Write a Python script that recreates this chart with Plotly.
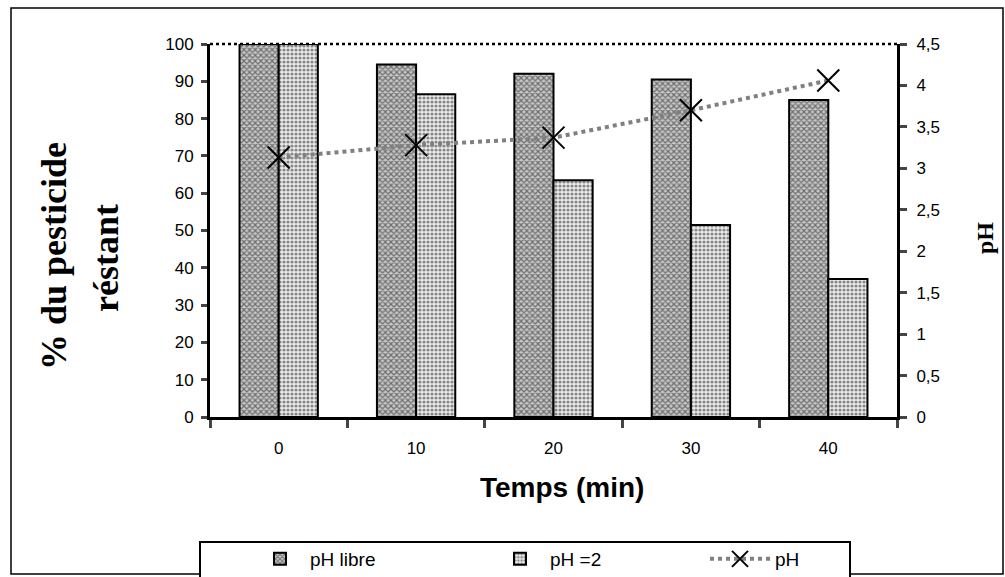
import plotly.graph_objects as go

temps = ["0", "10", "20", "30", "40"]
ph_libre = [100, 94.5, 92, 90.5, 85]
ph_2 = [100, 86.5, 63.5, 51.5, 37]
ph_vals = [3.13, 3.28, 3.37, 3.70, 4.06]

fig = go.Figure()
fig.add_trace(go.Bar(
    x=temps, y=ph_libre, name="pH libre", legend="legend",
    marker=dict(color="white", line=dict(color="black", width=2),
                pattern=dict(shape="x", fgcolor="#111", bgcolor="#c8c8c8", size=4, solidity=0.5)),
))
fig.add_trace(go.Bar(
    x=temps, y=ph_2, name="pH =2", legend="legend2",
    marker=dict(color="white", line=dict(color="black", width=2),
                pattern=dict(shape=".", fgcolor="#222", bgcolor="#ececec", size=4, solidity=0.5)),
))
fig.add_trace(go.Scatter(
    x=temps, y=ph_vals, name="pH", yaxis="y2", mode="lines+markers", legend="legend3",
    line=dict(color="#808080", width=4, dash="dot"),
    marker=dict(symbol="x-thin", size=22, line=dict(color="black", width=2), color="black"),
))

L, R, T, B = 210, 897, 44, 417
W, H = R - L, B - T

def px(x):
    return (x - L) / W

def py(y):
    return (B - y) / H

def leg(x, iw):
    return dict(orientation="h", x=px(x), y=py(540), xanchor="left", yanchor="top",
                borderwidth=0, font=dict(size=19), bgcolor="rgba(0,0,0,0)", itemwidth=iw)

fig.update_layout(
    width=1005, height=577,
    margin=dict(l=L, r=1005 - R, t=T, b=577 - B, autoexpand=False),
    paper_bgcolor="white", plot_bgcolor="white",
    separators=", ",
    barmode="group", bargap=0.43, bargroupgap=0,
    font=dict(family="Liberation Sans, Arial", size=17, color="black"),
    xaxis=dict(type="category", categoryorder="array", categoryarray=temps,
               tickson="boundaries", ticks="outside", ticklen=8, tickwidth=2.5,
               showline=True, linecolor="black", linewidth=3,
               showgrid=False, tickfont=dict(size=17), ticklabelstandoff=14),
    yaxis=dict(range=[0, 100], dtick=10, ticks="outside", ticklen=6, tickwidth=2.5,
               showline=True, linecolor="black", linewidth=3, showgrid=False,
               zeroline=False, tickfont=dict(size=17), ticklabelstandoff=4),
    yaxis2=dict(range=[0, 4.5], dtick=0.5, overlaying="y", side="right",
                ticks="outside", ticklen=7, tickwidth=2.5, showline=True,
                linecolor="black", linewidth=3, showgrid=False, zeroline=False,
                tickfont=dict(size=17), ticklabelstandoff=6),
    showlegend=True,
    legend=leg(250, 50),
    legend2=leg(490, 50),
    legend3=leg(705, 60),
    annotations=[
        dict(text="<b>% du pesticide</b>", x=px(54), y=py(256), xref="paper", yref="paper",
             xanchor="center", yanchor="middle",
             textangle=-90, showarrow=False, font=dict(family="Liberation Serif, Times New Roman", size=36)),
        dict(text="<b>réstant</b>", x=px(106), y=py(258), xref="paper", yref="paper",
             xanchor="center", yanchor="middle",
             textangle=-90, showarrow=False, font=dict(family="Liberation Serif, Times New Roman", size=36)),
        dict(text="<b>pH</b>", x=px(985), y=py(238), xref="paper", yref="paper",
             xanchor="center", yanchor="middle",
             textangle=-90, showarrow=False, font=dict(family="Liberation Serif, Times New Roman", size=24)),
        dict(text="<b>Temps (min)</b>", x=px(562), y=py(488), xref="paper", yref="paper",
             xanchor="center", yanchor="middle",
             showarrow=False, font=dict(family="Liberation Sans, Arial", size=28)),
    ],
    shapes=[
        dict(type="line", xref="paper", yref="paper", x0=0, x1=1, y0=1, y1=1,
             line=dict(color="black", width=2.5, dash="dot")),
        dict(type="rect", xref="paper", yref="paper", x0=px(11), x1=px(1003), y0=py(574), y1=py(8),
             line=dict(color="black", width=1.5), layer="below"),
        dict(type="rect", xref="paper", yref="paper", x0=px(200), x1=px(850), y0=py(590), y1=py(542),
             line=dict(color="black", width=2), fillcolor="white", layer="below"),
    ],
)

fig.write_html("out.html")
